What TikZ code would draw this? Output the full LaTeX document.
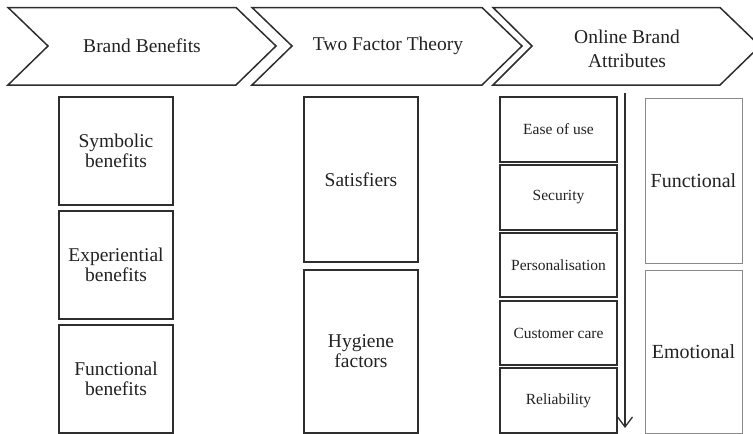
\documentclass[tikz,border=0pt]{standalone}
\usepackage{fontspec}
\setmainfont{Liberation Serif}
\usetikzlibrary{arrows.meta}
\definecolor{ink}{HTML}{222222}
\definecolor{edge}{HTML}{2E2E2E}
\definecolor{softedge}{HTML}{8A8A8A}
\begin{document}
\begin{tikzpicture}[x=1pt,y=-1pt,
  chev/.style={draw=edge, line width=1.5pt, fill=white, line join=miter},
  head/.style={font=\rmfamily\fontsize{19.5}{24}\selectfont, text=ink, align=center},
  box/.style={draw=edge, line width=1.5pt, inner sep=0pt, align=center, text=ink,
              font=\rmfamily\fontsize{19.5}{20}\selectfont},
  attr/.style={box, minimum width=117pt, font=\rmfamily\fontsize{15.5}{18}\selectfont},
  kind/.style={draw=softedge, line width=1pt, inner sep=0pt, align=center, text=ink,
               minimum width=97pt, font=\rmfamily\fontsize{20}{22}\selectfont},
  flow/.style={draw=edge, line width=1.3pt, -{Straight Barb[length=10pt,width=15pt]}}
]
\useasboundingbox (0,0) rectangle (753,434);
\clip (0,0) rectangle (753,434);

% header chevrons
\draw[chev] (8,7.5) -- (236,7.5) -- (276,46) -- (236,85) -- (8,85) -- (48,46) -- cycle;
\draw[chev] (252,7.5) -- (482,7.5) -- (522,46) -- (482,85) -- (252,85) -- (292,46) -- cycle;
\draw[chev] (493,7.5) -- (720,7.5) -- (760,46) -- (720,85) -- (493,85) -- (532,46) -- cycle;
\node[head] (h1) at (142,46) {Brand Benefits};
\node[head] (h2) at (388,46) {Two Factor Theory};
\node[head] (h3) at (627,49) {Online Brand\\Attributes};

% brand benefits
\node[box, minimum width=114pt, minimum height=108pt] (b1) at (116,151) {Symbolic\\benefits};
\node[box, minimum width=114pt, minimum height=108pt] (b2) at (116,265) {Experiential\\benefits};
\node[box, minimum width=114pt, minimum height=108pt] (b3) at (116,379) {Functional\\benefits};

% two factor theory
\node[box, minimum width=114pt, minimum height=165pt] (t1) at (361,179.5) {Satisfiers};
\node[box, minimum width=114pt, minimum height=163pt] (t2) at (361,351.5) {Hygiene\\factors};

% online brand attributes
\node[attr, minimum height=65pt] (a1) at (558.5,129.5) {Ease of use};
\node[attr, minimum height=65pt] (a2) at (558.5,197.5) {Security};
\node[attr, minimum height=64pt] (a3) at (558.5,265) {Personalisation};
\node[attr, minimum height=64pt] (a4) at (558.5,333) {Customer care};
\node[attr, minimum height=65pt] (a5) at (558.5,400.5) {Reliability};

\node[kind, minimum height=165pt] (k1) at (693.5,180.5) {Functional};
\node[kind, minimum height=163pt] (k2) at (693.5,351.5) {Emotional};

% downward arrow between attributes and their kinds
\coordinate (atop) at (625,93);
\coordinate (abot) at (625,428);
\draw[flow] (atop) -- (abot);
\end{tikzpicture}
\end{document}
